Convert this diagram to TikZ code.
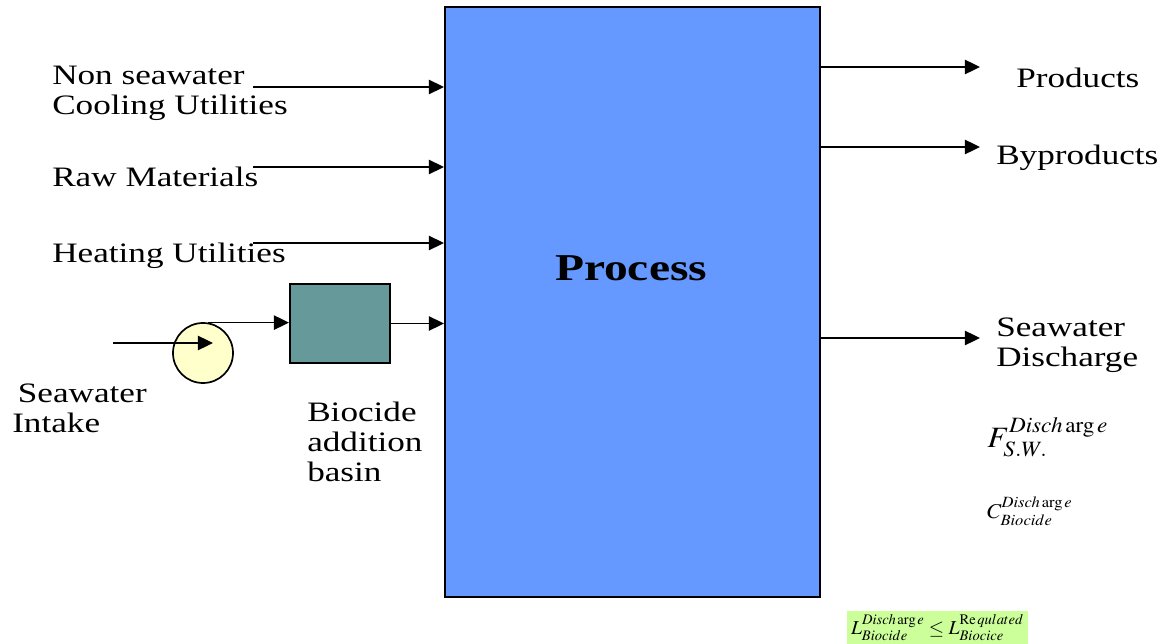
\documentclass[tikz,border=0pt]{standalone}
\usepackage{mathptmx}
\usepackage{fontspec}
\setmainfont{Liberation Serif}[FakeStretch=1.25]
\usepackage{tikz}
\usetikzlibrary{arrows.meta,positioning,calc}
\definecolor{PRblue}{RGB}{102,153,255}
\definecolor{PRteal}{RGB}{102,153,153}
\definecolor{PRpale}{RGB}{255,255,204}
\definecolor{PRgreen}{RGB}{204,255,153}
\newcommand{\wmath}[3]{\scalebox{#1}[1]{\fontsize{#2}{#2}\selectfont$#3$}}
\tikzset{
  procbox/.style={draw,line width=1.4pt,fill=PRblue,minimum width=9.375cm,minimum height=14.75cm,inner sep=0pt},
  basinbox/.style={draw,line width=1.4pt,fill=PRteal,minimum width=2.5cm,minimum height=1.975cm,inner sep=0pt},
  pump/.style={circle,draw,line width=1.2pt,fill=PRpale,minimum size=1.5cm,inner sep=0pt},
  lbl/.style={font=\fontsize{20}{21.3}\selectfont,align=left,anchor=west,inner sep=0pt},
  flow/.style={-{Triangle[length=3.8mm,width=3.6mm]},line width=1.2pt},
  limit/.style={fill=PRgreen,minimum width=4.525cm,minimum height=0.82cm,inner sep=0pt}
}
\begin{document}
\begin{tikzpicture}[x=0.025cm,y=-0.025cm]
  \useasboundingbox (0,0) rectangle (1173,644);
  % main block
  \node[procbox] (proc) at (632.5,302) {};
  \node[font=\fontsize{27}{30}\selectfont\bfseries] (ptxt) at (631,268) {Process};
  % inputs
  \node[lbl] (ncu) at (52,93) {Non seawater\\Cooling Utilities};
  \node[lbl] (raw) at (52,177) {Raw Materials};
  \node[lbl] (heat) at (52,256) {Heating Utilities};
  \coordinate (ncuS) at (253,87);
  \coordinate (rawS) at (253,167);
  \coordinate (heatS) at (253,243);
  \draw[flow] (ncuS) -- (ncuS -| proc.west);
  \draw[flow] (rawS) -- (rawS -| proc.west);
  \draw[flow] (heatS) -- (heatS -| proc.west);
  % seawater line
  \node[pump] (pump) at (203,353) {};
  \node[basinbox] (basin) at (340,323.5) {};
  \coordinate (intake) at (113,343);
  \coordinate (pumpin) at (213,343);
  \draw[flow] (intake) -- (pumpin);
  \draw[flow] (pump.80) -- (pump.80 -| basin.west);
  \draw[flow] (basin.east) -- (basin.east -| proc.west);
  \node[lbl] (swi) at (12,408) {\hspace{4pt}Seawater\\Intake};
  \node[lbl] (bab) at (307,442) {Biocide\\addition\\basin};
  % outputs
  \coordinate (prodE) at (980,67);
  \coordinate (byE) at (980,147);
  \coordinate (swdE) at (980,338);
  \draw[flow] (proc.east |- prodE) -- (prodE);
  \draw[flow] (proc.east |- byE) -- (byE);
  \draw[flow] (proc.east |- swdE) -- (swdE);
  \node[lbl] (prod) at (1016,78) {Products};
  \node[lbl] (by) at (996,158) {Byproducts};
  \node[lbl] (swd) at (996,345) {Seawater\\Discharge};
  \node[anchor=west,inner sep=0pt] (fsw) at (987,437) {\wmath{1.06}{21}{F^{Disch\,\mathrm{arg}\,e}_{S.W.}}};
  \node[anchor=west,inner sep=0pt] (cbio) at (987,511) {\wmath{1.06}{15}{C^{Disch\,\mathrm{arg}\,e}_{Biocide}}};
  \node[limit] (lim) at (937.5,627.5) {\wmath{1.0}{14}{L^{Disch\,\mathrm{arg}\,e}_{Biocide}\le L^{\mathrm{Re}\,qulated}_{Biocice}}};
\end{tikzpicture}
\end{document}
